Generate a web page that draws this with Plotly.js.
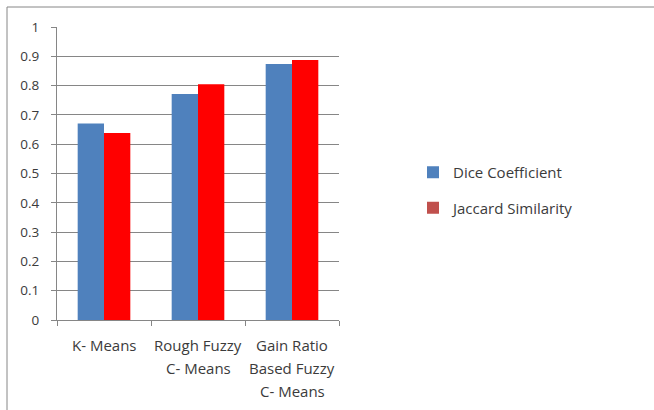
<!DOCTYPE html>
<html>
<head>
<meta charset="utf-8">
<script src="https://cdn.plot.ly/plotly-3.0.1.min.js"></script>
<style>html,body{margin:0;padding:0;background:#fff;}#chart{width:654px;height:410px;}</style>
</head>
<body>
<div id="chart"></div>
<script>
var categories = ["K- Means", "Rough Fuzzy C- Means", "Gain Ratio Based Fuzzy C- Means"];
var labelLines = [["K- Means"], ["Rough Fuzzy", "C- Means"], ["Gain Ratio", "Based Fuzzy", "C- Means"]];
var seriesNames = ["Dice Coefficient", "Jaccard Similarity"];
var diceValues = [0.671, 0.771, 0.874];
var jaccardValues = [0.638, 0.805, 0.887];
var yTickVals = [0, 0.1, 0.2, 0.3, 0.4, 0.5, 0.6, 0.7, 0.8, 0.9, 1];
var yTickText = ["0", "0.1", "0.2", "0.3", "0.4", "0.5", "0.6", "0.7", "0.8", "0.9", "1"];

var FONT = "Open Sans, Noto Sans, sans-serif";
var TXT = "#3b3b3b";
var barColors = ["#4F81BD", "#FF0000"];
var legendColors = ["#4F81BD", "#C0504D"];

var traces = [
  {type: "bar", x: categories, y: diceValues, name: seriesNames[0], marker: {color: barColors[0]}, offsetgroup: "1", showlegend: false, hoverinfo: "y"},
  {type: "bar", x: categories, y: jaccardValues, name: seriesNames[1], marker: {color: barColors[1]}, offsetgroup: "2", showlegend: false, hoverinfo: "y"},
  {type: "bar", x: categories, y: categories.map(function(){return null;}), name: seriesNames[0], marker: {color: legendColors[0]}, offsetgroup: "1", legendgroup: "a", showlegend: true},
  {type: "bar", x: categories, y: categories.map(function(){return null;}), name: seriesNames[1], marker: {color: legendColors[1]}, offsetgroup: "2", legendgroup: "b", showlegend: true}
];

var annotations = [];
labelLines.forEach(function(lines, i) {
  lines.forEach(function(line, j) {
    annotations.push({
      x: categories[i], xref: "x", y: 0, yref: "paper", yanchor: "middle",
      yshift: -25 - j * 23, text: line, showarrow: false,
      font: {family: FONT, size: 15, color: TXT}
    });
  });
});

var layout = {
  width: 654, height: 410,
  margin: {l: 57, r: 315, t: 27, b: 90, pad: 0},
  paper_bgcolor: "#fff", plot_bgcolor: "#fff",
  barmode: "group", bargap: 0.44, bargroupgap: 0,
  font: {family: FONT, size: 13, color: TXT},
  xaxis: {
    type: "category", categoryorder: "array", categoryarray: categories,
    showticklabels: false, ticks: "outside", ticklen: 5, tickcolor: "#868686",
    tickson: "boundaries", showline: true, linecolor: "#868686", linewidth: 1,
    showgrid: false, zeroline: false, fixedrange: true
  },
  yaxis: {
    range: [0, 1], tickvals: yTickVals, ticktext: yTickText,
    ticks: "outside", ticklen: 5, tickcolor: "#868686",
    showline: true, linecolor: "#868686", linewidth: 1,
    showgrid: true, gridcolor: "#868686", gridwidth: 1, zeroline: false,
    tickfont: {family: FONT, size: 13.5, color: TXT}, ticklabelstandoff: 9, fixedrange: true
  },
  legend: {
    x: (413 - 57) / 282, xanchor: "left",
    y: (320 - 156) / 293, yanchor: "top",
    font: {family: FONT, size: 15, color: TXT},
    tracegroupgap: 13, itemwidth: 30, bgcolor: "rgba(0,0,0,0)"
  },
  annotations: annotations,
  shapes: [
    {type: "line", xref: "paper", yref: "paper", x0: -50 / 282, x1: -50 / 282, y0: 1 + 20 / 293, y1: -90 / 293, line: {color: "#868686", width: 1}},
    {type: "line", xref: "paper", yref: "paper", x0: -50 / 282, x1: 597 / 282, y0: 1 + 20 / 293, y1: 1 + 20 / 293, line: {color: "#868686", width: 1}}
  ]
};

Plotly.newPlot("chart", traces, layout, {displayModeBar: false, staticPlot: true});
</script>
</body>
</html>
